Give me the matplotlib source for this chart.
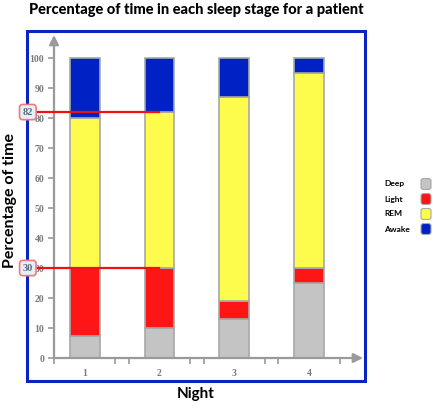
import matplotlib
matplotlib.use("Agg")
import matplotlib.pyplot as plt
from matplotlib.patches import Rectangle, FancyBboxPatch
import numpy as np

nights = ["1", "2", "3", "4"]
stages = ["Deep", "Light", "REM", "Awake"]
deep = [7.5, 10, 13, 25]
light = [22.5, 20, 6, 5]
rem = [50, 52, 68, 65]
awake = [20, 18, 13, 5]
stage_colors = ["#c4c4c4", "#fe1616", "#fdfb4b", "#0022c4"]
marked_values = [82, 30]

W, H = 433, 408
fig = plt.figure(figsize=(W / 100, H / 100), dpi=100)

# blue frame round the plot
fig.patches.append(Rectangle((27 / W, (H - 381) / H), (365 - 27) / W, (381 - 31) / H,
                             transform=fig.transFigure, fill=False,
                             ec="#0a24c4", lw=2.2, zorder=0))

ax = fig.add_axes([54 / W, (H - 358) / H, (363 - 54) / W, (358 - 35) / H])
ax.set_zorder(2)
ax.set_xlim(0.6, 4.72)
ax.set_ylim(0, 107.7)
for s in ax.spines.values():
    s.set_visible(False)
ax.patch.set_alpha(0)

x = np.arange(1, len(nights) + 1)
bottom = np.zeros(len(nights))
for name, vals, col in zip(stages, [deep, light, rem, awake], stage_colors):
    ax.bar(x, vals, width=0.4, bottom=bottom, color=col, edgecolor="#a8a8a8",
           linewidth=1.2, zorder=2)
    bottom += np.array(vals)

gray = "#9a9a9a"
ax.annotate("", xy=(1, 0), xytext=(0, 0), xycoords="axes fraction",
            arrowprops=dict(arrowstyle="-|>", color=gray, lw=1.6, mutation_scale=14,
                            shrinkA=0, shrinkB=0), zorder=3)
ax.annotate("", xy=(0, 1), xytext=(0, 0), xycoords="axes fraction",
            arrowprops=dict(arrowstyle="-|>", color=gray, lw=1.6, mutation_scale=14,
                            shrinkA=0, shrinkB=0), zorder=3)

ax.set_yticks(range(0, 101, 10))
ax.set_xticks(x)
ax.set_xticklabels(nights)
ax.set_xticks(np.concatenate([x - 0.41, x + 0.41]), minor=True)
ax.tick_params(axis="y", length=4, color=gray, width=1.2, pad=3)
ax.tick_params(axis="x", which="major", length=0, pad=8)
ax.tick_params(axis="x", which="minor", length=4, color=gray, width=1.2)
for lab in ax.get_xticklabels() + ax.get_yticklabels():
    lab.set_fontfamily("Liberation Serif")
    lab.set_fontweight("bold")
    lab.set_fontsize(7)
    lab.set_color("#7a7a7a")

# red marker lines with value boxes
for v in marked_values:
    ax.plot([0.36, 2.0], [v, v], color="#ee1111", lw=1.6, zorder=4, clip_on=False)
    ax.text(0.24, v, str(v), ha="center", va="center", fontsize=7.5,
            family="Liberation Serif", fontweight="bold", color="#5a6a7a", zorder=6,
            bbox=dict(boxstyle="round,pad=0.3,rounding_size=0.3", fc="#e8eef8",
                      ec="#f07a7a", lw=1.2),
            clip_on=False)

fig.text(196 / W, 1 - 10 / H, "Percentage of time in each sleep stage for a patient",
         ha="center", va="center", fontsize=10.5, fontweight="black", family="Lato")
fig.text(10 / W, 1 - 200 / H, "Percentage of time", rotation=90, ha="center",
         va="center", fontsize=11.5, fontweight="bold", family="Lato")
fig.text(196 / W, 1 - 394 / H, "Night", ha="center", va="center", fontsize=11,
         fontweight="bold", family="Lato")

# legend, labels on the left and swatches on the right
for i, (name, col) in enumerate(zip(stages, stage_colors)):
    yc = 184 + i * 15
    fig.text(384 / W, 1 - yc / H, name, ha="left", va="center", fontsize=6,
             fontweight="bold", family="Lato")
    fig.patches.append(FancyBboxPatch((421 / W, 1 - (yc + 5.5) / H), 10 / W, 11 / H,
                                      boxstyle="round,pad=0,rounding_size=0.006",
                                      transform=fig.transFigure, fc=col,
                                      ec="#a8a8a8", lw=0.8))

fig.savefig("out.png", dpi=100)
